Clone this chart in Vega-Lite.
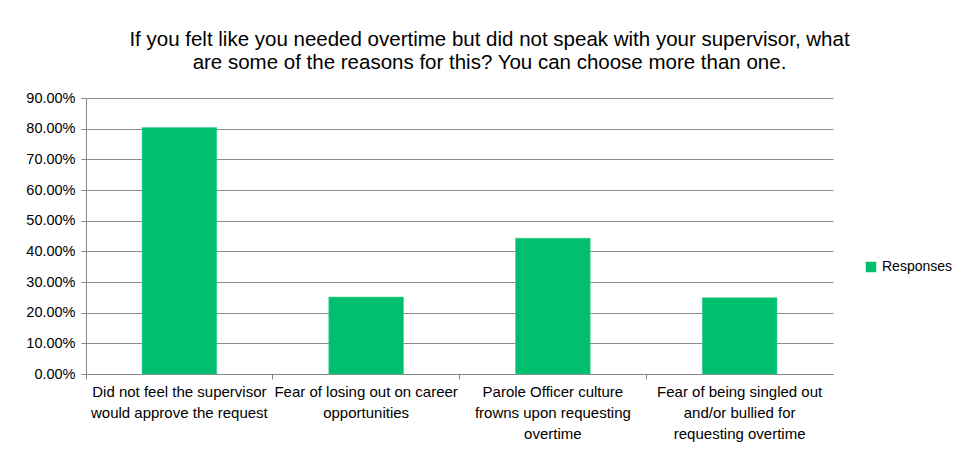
{
  "$schema": "https://vega.github.io/schema/vega-lite/v6.json",
  "width": 747,
  "height": 276,
  "autosize": {"type": "none"},
  "padding": {"left": 86, "top": 98, "right": 147, "bottom": 92},
  "background": "white",
  "title": {
    "text": ["If you felt like you needed overtime but did not speak with your supervisor, what", "are some of the reasons for this? You can choose more than one."],
    "font": "Liberation Sans",
    "fontSize": 20.5,
    "fontWeight": "normal",
    "color": "#000000",
    "lineHeight": 23,
    "anchor": "middle",
    "dx": 30,
    "offset": 17
  },
  "data": {
    "values": [
      {"reason": "Did not feel the supervisor would approve the request", "share": 0.804, "series": "Responses"},
      {"reason": "Fear of losing out on career opportunities", "share": 0.251, "series": "Responses"},
      {"reason": "Parole Officer culture frowns upon requesting overtime", "share": 0.443, "series": "Responses"},
      {"reason": "Fear of being singled out and/or bullied for requesting overtime", "share": 0.249, "series": "Responses"}
    ]
  },
  "mark": {"type": "bar", "stroke": "#3fd08f", "strokeWidth": 0.5},
  "encoding": {
    "x": {
      "field": "reason",
      "type": "nominal",
      "sort": null,
      "scale": {"paddingInner": 0.6, "paddingOuter": 0.3},
      "axis": {
        "title": null,
        "labelAngle": 0,
        "labelFont": "Liberation Sans",
        "labelFontSize": 15,
        "labelColor": "#000000",
        "labelLineHeight": 21,
        "labelPadding": 5,
        "labelLimit": 0,
        "bandPosition": -0.75,
        "domainColor": "#868686",
        "tickColor": "#868686",
        "tickSize": 5,
        "labelExpr": "datum.value == 'Did not feel the supervisor would approve the request' ? ['Did not feel the supervisor', 'would approve the request'] : datum.value == 'Fear of losing out on career opportunities' ? ['Fear of losing out on career', 'opportunities'] : datum.value == 'Parole Officer culture frowns upon requesting overtime' ? ['Parole Officer culture', 'frowns upon requesting', 'overtime'] : ['Fear of being singled out', 'and/or bullied for', 'requesting overtime']"
      }
    },
    "y": {
      "field": "share",
      "type": "quantitative",
      "scale": {"domain": [0, 0.9]},
      "axis": {
        "title": null,
        "format": ".2%",
        "values": [0, 0.1, 0.2, 0.3, 0.4, 0.5, 0.6, 0.7, 0.8, 0.9],
        "labelFont": "Liberation Sans",
        "labelFontSize": 14.5,
        "labelColor": "#000000",
        "labelPadding": 6,
        "domainColor": "#868686",
        "tickColor": "#868686",
        "tickSize": 5,
        "gridColor": "#8c8c8c",
        "gridOpacity": 1,
        "gridWidth": 1
      }
    },
    "color": {
      "field": "series",
      "type": "nominal",
      "scale": {"range": ["#00bf6f"]},
      "legend": {
        "title": null,
        "orient": "none",
        "legendX": 778,
        "legendY": 162,
        "symbolType": "square",
        "symbolSize": 110,
        "symbolStrokeWidth": 0,
        "labelFont": "Liberation Sans",
        "labelFontSize": 14,
        "labelColor": "#000000"
      }
    }
  },
  "config": {
    "view": {"stroke": null}
  }
}
